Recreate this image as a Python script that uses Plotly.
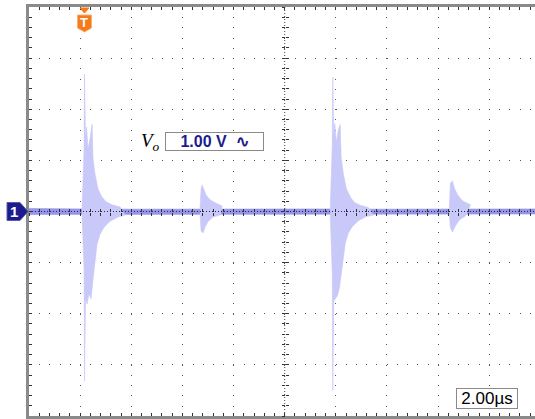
import plotly.graph_objects as go

# ---------------- scope settings ----------------
x_range = [0, 19.79]        # µs (2.00 µs/div, ~9.9 div visible)
y_range = [-4, 4]           # V  (1.00 V/div, 8 div)
trigger_time = 2.17         # µs

# ---------------- trace data ----------------
baseline_t = [0.0, 2.0, 2.1, 4.0, 6.6, 7.6, 11.7, 13.6, 16.4, 17.4, 19.79]
baseline_hi = [0.06, 0.06, 0.05, 0.045, 0.05, 0.045, 0.05, 0.045, 0.05, 0.045, 0.05]
baseline_lo = [-0.06, -0.06, -0.05, -0.05, -0.05, -0.05, -0.05, -0.05, -0.05, -0.05, -0.05]

burst1_t_hi = [2.074, 2.153, 2.172, 2.211, 2.250, 2.309, 2.387, 2.466, 2.505, 2.583, 2.700, 2.857, 3.013, 3.248, 3.561]
burst1_v_hi = [0.03, 1.22, 2.69, 1.42, 1.65, 1.22, 1.42, 1.71, 1.03, 0.73, 0.44, 0.28, 0.19, 0.13, 0.09]
burst1_t_lo = [2.074, 2.153, 2.172, 2.211, 2.270, 2.348, 2.427, 2.505, 2.583, 2.661, 2.779, 2.935, 3.170, 3.483, 3.757]
burst1_v_lo = [-0.03, -1.13, -3.32, -1.71, -1.81, -1.61, -1.71, -1.32, -0.93, -0.64, -0.44, -0.31, -0.19, -0.11, -0.07]

burst2_t_hi = [6.69, 6.73, 6.77, 6.85, 6.93, 7.08, 7.28, 7.55]
burst2_v_hi = [0.07, 0.44, 0.52, 0.40, 0.32, 0.23, 0.17, 0.11]
burst2_t_lo = [6.69, 6.73, 6.81, 6.89, 7.01, 7.20, 7.48]
burst2_v_lo = [-0.05, -0.38, -0.42, -0.30, -0.19, -0.11, -0.07]

burst3_t_hi = [11.78, 11.86, 11.88, 11.92, 11.96, 12.02, 12.10, 12.17, 12.21, 12.29, 12.41, 12.57, 12.72, 12.96, 13.27]
burst3_v_hi = [0.03, 1.30, 2.63, 1.50, 1.72, 1.35, 1.60, 1.70, 1.05, 0.75, 0.45, 0.28, 0.18, 0.12, 0.08]
burst3_t_lo = [11.78, 11.86, 11.88, 11.92, 11.98, 12.06, 12.14, 12.21, 12.29, 12.37, 12.49, 12.64, 12.88, 13.19, 13.47]
burst3_v_lo = [-0.03, -1.20, -3.50, -1.75, -1.70, -1.65, -1.50, -1.25, -0.90, -0.62, -0.42, -0.30, -0.18, -0.10, -0.07]

burst4_t_hi = [16.44, 16.48, 16.56, 16.64, 16.76, 16.95, 17.27]
burst4_v_hi = [0.07, 0.55, 0.60, 0.45, 0.33, 0.21, 0.13]
burst4_t_lo = [16.44, 16.48, 16.56, 16.68, 16.84, 17.07]
burst4_v_lo = [-0.05, -0.32, -0.40, -0.28, -0.16, -0.09]

channel_label = "1"
trigger_label = "T"
scale_label = "1.00&nbsp;V&nbsp;&nbsp;∿"
time_label = "2.00µs"
signal_label = "<i>V<sub>o</sub></i>"

BURST_COLOR = "rgb(200,200,249)"
BASE_COLOR = "rgb(150,150,232)"
NAVY = "#1c1c8c"
ORANGE = "#f47a1c"

fig = go.Figure()


def band(t_hi, v_hi, t_lo, v_lo, color):
    return go.Scatter(
        x=list(t_hi) + list(t_lo)[::-1],
        y=list(v_hi) + list(v_lo)[::-1],
        fill="toself", fillcolor=color, mode="lines",
        line=dict(color=color, width=0.6), hoverinfo="skip", showlegend=False,
    )


fig.add_trace(band(baseline_t, baseline_hi, baseline_t, baseline_lo, BASE_COLOR))
for th, vh, tl, vl in [
    (burst1_t_hi, burst1_v_hi, burst1_t_lo, burst1_v_lo),
    (burst2_t_hi, burst2_v_hi, burst2_t_lo, burst2_v_lo),
    (burst3_t_hi, burst3_v_hi, burst3_t_lo, burst3_v_lo),
    (burst4_t_hi, burst4_v_hi, burst4_t_lo, burst4_v_lo),
]:
    fig.add_trace(band(th, vh, tl, vl, BURST_COLOR))

# empty traces so the centre-tick overlay axes exist
fig.add_trace(go.Scatter(x=[], y=[], xaxis="x2", yaxis="y2", showlegend=False))
fig.add_trace(go.Scatter(x=[], y=[], xaxis="x3", yaxis="y3", showlegend=False))

GRID_DASH = "1px,9.22px"
TICK_COL = "#333333"

fig.update_layout(
    width=535, height=419,
    margin=dict(l=29, r=0, t=7, b=3),
    paper_bgcolor="white", plot_bgcolor="white",
    showlegend=False,
    xaxis=dict(
        range=x_range, dtick=2, tick0=0, showticklabels=False,
        showgrid=True, gridcolor="#555555", gridwidth=1, griddash=GRID_DASH,
        zeroline=False, showline=True, linecolor="#8a8a8a", linewidth=3,
        mirror="allticks", ticks="inside", ticklen=3, tickcolor=TICK_COL,
        minor=dict(dtick=0.4, tick0=0, ticks="inside", ticklen=3, tickcolor=TICK_COL, showgrid=False),
        layer="above traces", fixedrange=True,
    ),
    yaxis=dict(
        range=y_range, dtick=1, tick0=0, showticklabels=False,
        showgrid=True, gridcolor="#555555", gridwidth=1, griddash=GRID_DASH,
        zeroline=False, showline=True, linecolor="#8a8a8a", linewidth=3,
        mirror=False, ticks="inside", ticklen=3, tickcolor=TICK_COL,
        minor=dict(dtick=0.2, tick0=0, ticks="inside", ticklen=3, tickcolor=TICK_COL, showgrid=False),
        layer="above traces", fixedrange=True,
    ),
    xaxis2=dict(range=x_range, overlaying="x", anchor="free", position=0.5,
                showticklabels=False, showgrid=False, zeroline=False, showline=False,
                ticks="outside", ticklen=3, tickcolor=TICK_COL, dtick=0.4, tick0=0,
                layer="above traces"),
    xaxis3=dict(range=x_range, overlaying="x", anchor="free", position=0.5,
                showticklabels=False, showgrid=False, zeroline=False, showline=False,
                ticks="inside", ticklen=3, tickcolor=TICK_COL, dtick=0.4, tick0=0,
                layer="above traces"),
    yaxis2=dict(range=y_range, overlaying="y", anchor="free", position=10 / x_range[1],
                showticklabels=False, showgrid=False, zeroline=False, showline=False,
                ticks="outside", ticklen=3, tickcolor=TICK_COL, dtick=0.2, tick0=0,
                layer="above traces"),
    yaxis3=dict(range=y_range, overlaying="y", anchor="free", position=10 / x_range[1],
                showticklabels=False, showgrid=False, zeroline=False, showline=False,
                ticks="inside", ticklen=3, tickcolor=TICK_COL, dtick=0.2, tick0=0,
                layer="above traces"),
)

# centre cross-hair (dense dots) above the trace
fig.add_shape(type="line", xref="x", yref="y", x0=x_range[0], x1=x_range[1], y0=0, y1=0,
              line=dict(color="#2a2a5a", width=1, dash="1px,2px"), layer="above")
fig.add_shape(type="line", xref="x", yref="y", x0=10, x1=10, y0=y_range[0], y1=y_range[1],
              line=dict(color="#444444", width=1, dash="1px,2px"), layer="above")

# channel 1 marker
fig.add_shape(type="path", xref="paper", yref="paper", xsizemode="pixel", ysizemode="pixel",
              xanchor=0, yanchor=0.5,
              path="M -22,9 L -9,9 L -1,0 L -9,-9 L -22,-9 Z",
              fillcolor=NAVY, line=dict(color="#5a5aa8", width=1), layer="above")
fig.add_annotation(xref="paper", yref="paper", x=0, y=0.5, xshift=-15, yshift=0,
                   xanchor="center", yanchor="middle",
                   text="<b>" + channel_label + "</b>", borderpad=0,
                   showarrow=False, font=dict(family="Liberation Sans", size=15, color="white"))

# trigger marker
trig_paper = trigger_time / x_range[1]
fig.add_shape(type="path", xref="paper", yref="paper", xsizemode="pixel", ysizemode="pixel",
              xanchor=trig_paper, yanchor=1,
              path="M -4.5,-1 L 4.5,-1 L 0,-6 Z", fillcolor=ORANGE, line=dict(color=ORANGE, width=1), layer="above")
fig.add_shape(type="path", xref="paper", yref="paper", xsizemode="pixel", ysizemode="pixel",
              xanchor=trig_paper, yanchor=1,
              path="M -7,-8 L 7,-8 L 7,-21 L 0,-25 L -7,-21 Z", fillcolor=ORANGE,
              line=dict(color="#f9b070", width=1), layer="above")
fig.add_annotation(xref="paper", yref="paper", x=trig_paper, y=1, yshift=-15,
                   xanchor="center", yanchor="middle",
                   text="<b>" + trigger_label + "</b>", borderpad=0,
                   showarrow=False, font=dict(family="Liberation Sans", size=13, color="white"))

# labels
fig.add_annotation(xref="x", yref="y", x=4.30, y=1.36, xanchor="left", yanchor="middle",
                   text=signal_label, showarrow=False,
                   font=dict(family="Liberation Serif", size=19, color="black"))
fig.add_annotation(xref="x", yref="y", x=7.24, y=1.36, xanchor="center", yanchor="middle",
                   text="<b>" + scale_label + "</b>", showarrow=False, width=97, borderpad=0,
                   bordercolor="#8a8a8a", borderwidth=1, bgcolor="white",
                   font=dict(family="Liberation Sans", size=16, color=NAVY))
fig.add_annotation(xref="x", yref="y", x=17.91, y=-3.66, xanchor="center", yanchor="middle",
                   text=time_label, showarrow=False, width=60, borderpad=0,
                   bordercolor="#8a8a8a", borderwidth=1, bgcolor="white",
                   font=dict(family="Liberation Sans", size=17, color="black"))

fig.write_html("out.html")
